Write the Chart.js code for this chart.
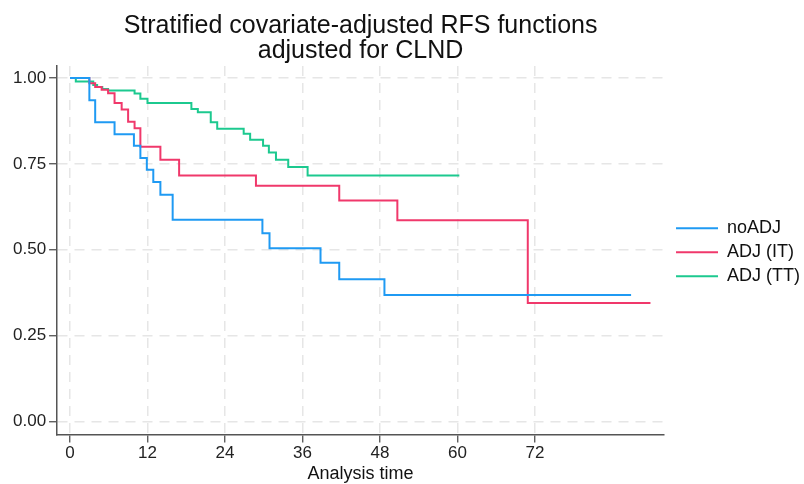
<!DOCTYPE html>
<html lang="en">
<head>
  <meta charset="UTF-8" />
  <title>Stratified covariate-adjusted RFS functions</title>
  <script src="https://cdn.jsdelivr.net/npm/chart.js"></script>
  <style>
    html, body { margin: 0; padding: 0; background: #fff; }
    #wrap { width: 804px; height: 484px; }
  </style>
</head>
<body>
  <div id="wrap"><canvas id="rfsChart" width="804" height="484"></canvas></div>

  <script>
    // step times (months) and survival values
    const noAdjTime = [0, 3.0, 3.9, 6.9, 9.9, 10.9, 11.9, 12.9, 14.0, 15.9, 29.8, 30.9, 38.8, 41.7, 48.7, 86.9];
    const noAdjSurv = [1, 0.935, 0.871, 0.836, 0.803, 0.767, 0.733, 0.697, 0.660, 0.587, 0.548, 0.504, 0.462, 0.414, 0.368, 0.368];

    const adjItTime = [0, 3.0, 3.9, 4.9, 5.9, 6.9, 8.0, 9.0, 10.0, 10.9, 14.0, 16.9, 28.8, 41.7, 50.7, 70.9, 89.9];
    const adjItSurv = [1, 0.985, 0.974, 0.966, 0.956, 0.927, 0.908, 0.873, 0.854, 0.800, 0.762, 0.716, 0.686, 0.643, 0.586, 0.345, 0.345];

    const adjTtTime = [0, 0.9, 3.6, 4.2, 5.0, 5.9, 10.0, 10.9, 12.0, 18.8, 19.8, 21.8, 22.8, 26.9, 27.9, 29.9, 30.8, 31.9, 33.8, 36.8, 60.3];
    const adjTtSurv = [1, 0.99, 0.98, 0.974, 0.968, 0.964, 0.955, 0.94, 0.927, 0.91, 0.90, 0.871, 0.852, 0.838, 0.82, 0.803, 0.783, 0.762, 0.741, 0.716, 0.716];

    const xTicks = [0, 12, 24, 36, 48, 60, 72];
    const yTicks = [0, 0.25, 0.5, 0.75, 1];
    const titleLines = ['Stratified covariate-adjusted RFS functions', 'adjusted for CLND'];

    const toPoints = (t, s) => t.map((x, i) => ({ x: x, y: s[i] }));
    const FONT = '"Liberation Sans", Arial, Helvetica, sans-serif';

    // two-line title centred over the plot area
    const titlePlugin = {
      id: 'twoLineTitle',
      afterLayout(chart) {
        // keep the legend centred on the plot area and nudge it right a bit
        chart.legend.bottom = chart.chartArea.bottom + 4;
        chart.legend.left += 6;
      },
      afterDraw(chart) {
        const ctx = chart.ctx;
        const cx = (chart.chartArea.left + chart.chartArea.right) / 2;
        ctx.save();
        ctx.font = '25px ' + FONT;
        ctx.fillStyle = '#111';
        ctx.textAlign = 'center';
        ctx.textBaseline = 'alphabetic';
        ctx.fillText(titleLines[0], cx, 33);
        ctx.fillText(titleLines[1], cx, 58);
        ctx.restore();
      }
    };

    const gridStyle = { color: '#e6e6e6', lineWidth: 1.5, tickColor: '#444', tickLength: 8, tickWidth: 1.2 };
    const borderStyle = { color: '#555', width: 1.5, dash: [10, 7] };
    const tickFont = { family: FONT, size: 17, lineHeight: 1.1 };

    new Chart(document.getElementById('rfsChart').getContext('2d'), {
      type: 'line',
      data: {
        datasets: [
          { label: 'noADJ', data: toPoints(noAdjTime, noAdjSurv), borderColor: '#1f9af3', backgroundColor: '#1f9af3' },
          { label: 'ADJ (IT)', data: toPoints(adjItTime, adjItSurv), borderColor: '#f0386b', backgroundColor: '#f0386b' },
          { label: 'ADJ (TT)', data: toPoints(adjTtTime, adjTtSurv), borderColor: '#1cc98f', backgroundColor: '#1cc98f' }
        ]
      },
      options: {
        responsive: false,
        animation: false,
        devicePixelRatio: 1,
        datasets: { line: { stepped: 'before', borderWidth: 2, pointRadius: 0, fill: false } },
        layout: { padding: { top: 66, left: 10, right: 0, bottom: 0 } },
        plugins: {
          title: { display: false },
          tooltip: { enabled: false },
          legend: {
            position: 'right',
            labels: {
              boxWidth: 42,
              boxHeight: 2,
              padding: 6,
              color: '#111',
              font: { family: FONT, size: 18 },
              generateLabels(chart) {
                return Chart.defaults.plugins.legend.labels.generateLabels(chart).map(l => Object.assign(l, { lineWidth: 0 }));
              }
            }
          }
        },
        scales: {
          x: {
            type: 'linear',
            min: -2,
            max: 92,
            afterBuildTicks: axis => { axis.ticks = xTicks.map(v => ({ value: v })); },
            grid: gridStyle,
            border: borderStyle,
            ticks: { color: '#222', font: tickFont, padding: 1, maxRotation: 0 },
            title: { display: true, text: 'Analysis time', color: '#111', font: { family: FONT, size: 18, lineHeight: 1.1 }, padding: { top: 1, bottom: 0 } }
          },
          y: {
            min: -0.038,
            max: 1.035,
            afterBuildTicks: axis => { axis.ticks = yTicks.map(v => ({ value: v })); },
            grid: gridStyle,
            border: borderStyle,
            ticks: { color: '#222', font: tickFont, padding: 3, callback: v => v.toFixed(2) }
          }
        }
      },
      plugins: [titlePlugin]
    });
  </script>
</body>
</html>
